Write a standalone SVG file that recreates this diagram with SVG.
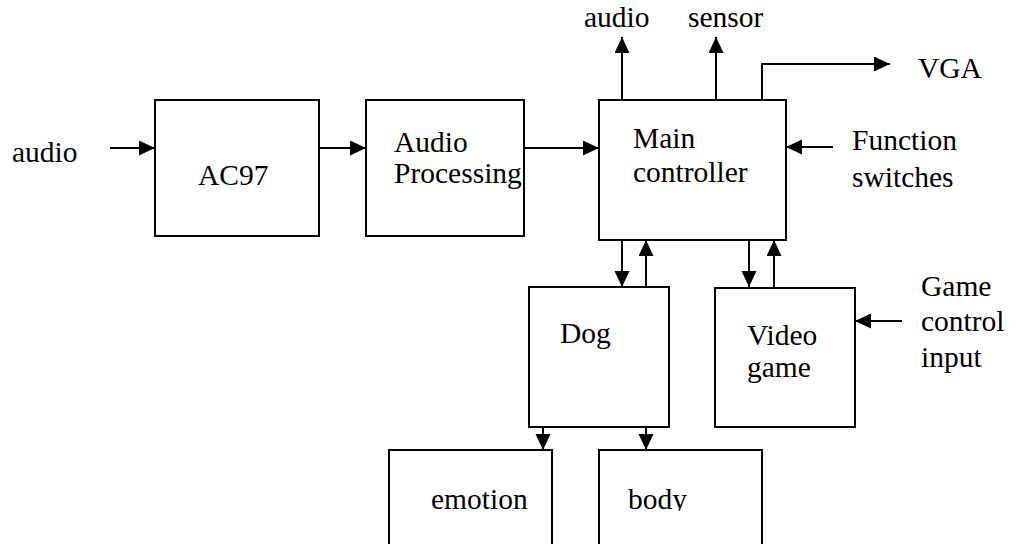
<svg xmlns="http://www.w3.org/2000/svg" width="1016" height="544" viewBox="0 0 1016 544">
<style>
.box{fill:#fff;stroke:#000;stroke-width:2}
.t{font-family:'Liberation Serif',Tinos,'DejaVu Serif',serif;font-size:29.5px;fill:#000}
.c{fill:none;stroke:#000;stroke-width:2;marker-end:url(#ah)}
</style>
<defs>
<marker id="ah" markerUnits="userSpaceOnUse" markerWidth="17" markerHeight="16" refX="16" refY="7.5" orient="auto">
<path d="M0,0 L16,7.5 L0,15 z" fill="#000"/>
</marker>
<clipPath id="bodyclip"><rect x="0" y="0" width="1016" height="511"/></clipPath>
</defs>
<g id="connectors">
<path class="c" d="M110,148 L155,148"/>
<path class="c" d="M319,148 L366,148"/>
<path class="c" d="M524,148 L599,148"/>
<path class="c" d="M622,100 L622,37"/>
<path class="c" d="M716,100 L716,37"/>
<path class="c" d="M762,99 L762,64 L890,64"/>
<path class="c" d="M833,147 L786,147"/>
<path class="c" d="M622,240 L622,287"/>
<path class="c" d="M646,287 L646,240"/>
<path class="c" d="M749,240 L749,287"/>
<path class="c" d="M774,287 L774,240"/>
<path class="c" d="M902,321 L855,321"/>
<path class="c" d="M543,427 L543,450"/>
<path class="c" d="M646,427 L646,450"/>
</g>
<g id="label-audio-in"><text class="t" x="12" y="162">audio</text></g>
<g id="label-audio-out"><text class="t" x="584" y="27">audio</text></g>
<g id="label-sensor"><text class="t" x="688" y="27">sensor</text></g>
<g id="label-vga"><text class="t" x="918" y="78">VGA</text></g>
<g id="label-function"><text class="t" x="852" y="150">Function</text><text class="t" x="852" y="187">switches</text></g>
<g id="label-game"><text class="t" x="921" y="296">Game</text><text class="t" x="921" y="331">control</text><text class="t" x="921" y="367">input</text></g>
<g id="ac97"><rect class="box" x="155" y="100" width="164" height="136"/><text class="t" x="198" y="185">AC97</text></g>
<g id="audio-processing"><rect class="box" x="366" y="100" width="158" height="136"/><text class="t" x="394" y="152">Audio</text><text class="t" x="394" y="183">Processing</text></g>
<g id="main-controller"><rect class="box" x="599" y="100" width="187" height="140"/><text class="t" x="633" y="148">Main</text><text class="t" x="633" y="182">controller</text></g>
<g id="dog"><rect class="box" x="529" y="287" width="140" height="140"/><text class="t" x="560" y="343">Dog</text></g>
<g id="video-game"><rect class="box" x="715" y="288" width="140" height="139"/><text class="t" x="747" y="345">Video</text><text class="t" x="747" y="377">game</text></g>
<g id="emotion"><rect class="box" x="389" y="450" width="163" height="100"/><text class="t" x="431" y="509">emotion</text></g>
<g id="body"><rect class="box" x="599" y="450" width="163" height="100"/><text class="t" x="628" y="509" clip-path="url(#bodyclip)">body</text></g>
</svg>
